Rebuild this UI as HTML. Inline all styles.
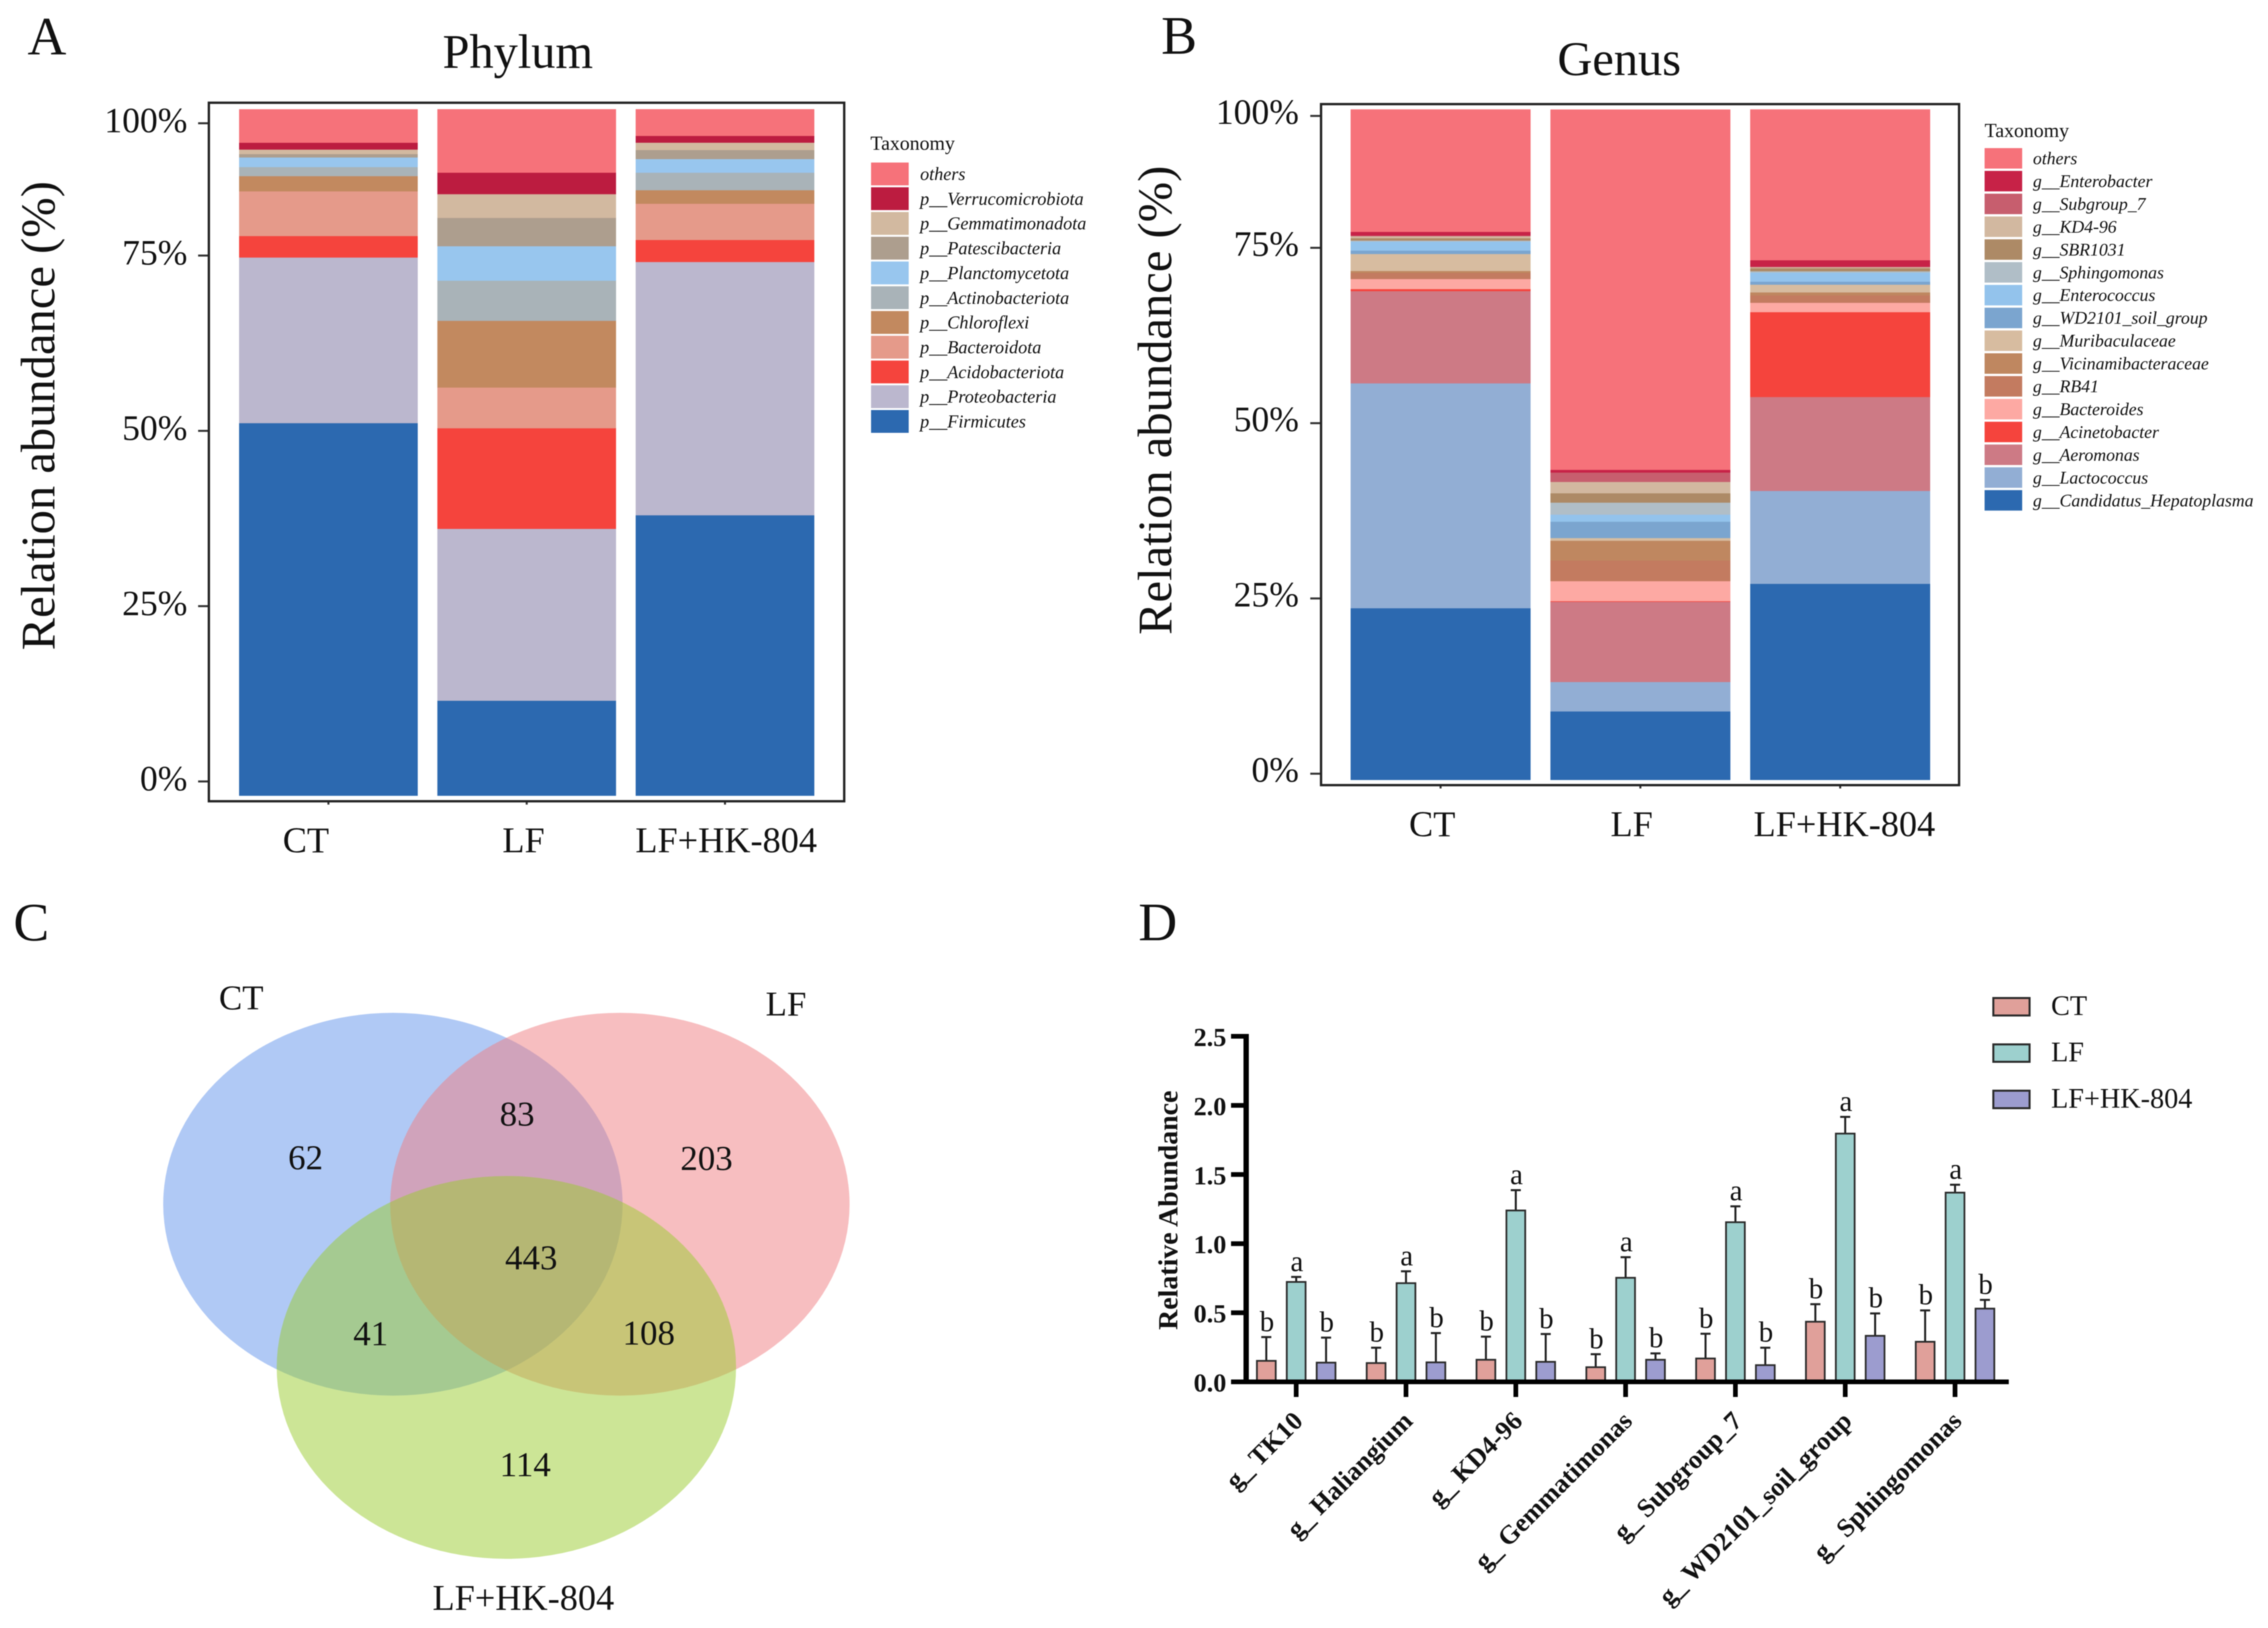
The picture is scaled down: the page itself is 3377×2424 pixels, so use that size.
<!DOCTYPE html>
<html lang="en">
<head>
<meta charset="utf-8">
<title>Gut microbiota composition panels</title>
<style>
  html,body{margin:0;padding:0;background:#fff;}
  #figure{display:block;width:3377px;height:2424px;filter:blur(0.7px);}
  text{font-family:"Liberation Serif",serif;fill:#111;}
  .panel-letter{font-size:80px;}
  .tick-big{font-size:53px;}
  .cat-big{font-size:54px;}
  .axis-big{font-size:72.3px;}
  .title-big{font-size:72px;}
  .legend-head{font-size:29.5px;}
  .legend-item{font-size:27px;font-style:italic;}
  .legend-item-small{font-size:26.4px;font-style:italic;}
  .venn-num{font-size:52px;}
  .bold-axis{font-size:39px;font-weight:bold;}
  .bold-title{font-size:41.5px;font-weight:bold;}
  .bold-cat{font-size:39px;font-weight:bold;}
  .sig{font-size:43px;}
  .legend-d{font-size:42px;}
</style>
</head>
<body>
<svg id="figure" xmlns="http://www.w3.org/2000/svg" width="3377" height="2424" viewBox="0 0 3377 2424">
  <rect x="0" y="0" width="3377" height="2424" fill="#ffffff"/>

  <!-- Panel A -->
  <g id="panel-a">
    <text class="panel-letter" x="41" y="81">A</text>
    <text class="title-big" x="659" y="101">Phylum</text>
    <text class="axis-big" x="81" y="619" text-anchor="middle" transform="rotate(-90 81 619)">Relation abundance (%)</text>
    <g id="a-plot"></g>
    <rect x="311" y="153" width="946" height="1040" fill="none" stroke="#222" stroke-width="3.5"/>
    <text class="cat-big" x="421" y="1269">CT</text>
    <text class="cat-big" x="748" y="1269">LF</text>
    <text class="cat-big" x="946" y="1269">LF+HK-804</text>
    <text class="legend-head" x="1296" y="223">Taxonomy</text>
    <g id="a-legend"></g>
  </g>

  <!-- Panel B -->
  <g id="panel-b">
    <text class="panel-letter" x="1729" y="80">B</text>
    <text class="title-big" x="2319" y="112">Genus</text>
    <text class="axis-big" x="1744" y="596" text-anchor="middle" transform="rotate(-90 1744 596)">Relation abundance (%)</text>
    <g id="b-plot"></g>
    <rect x="1967" y="155" width="950" height="1014" fill="none" stroke="#222" stroke-width="3.5"/>
    <text class="cat-big" x="2098" y="1245">CT</text>
    <text class="cat-big" x="2398" y="1245">LF</text>
    <text class="cat-big" x="2611" y="1245">LF+HK-804</text>
    <text class="legend-head" x="2955" y="204">Taxonomy</text>
    <g id="b-legend"></g>
  </g>

  <!-- Panel C -->
  <g id="panel-c">
    <text class="panel-letter" x="20" y="1400">C</text>
    <ellipse cx="585" cy="1793" rx="342" ry="285" fill="#6193EB" fill-opacity="0.5"/>
    <ellipse cx="923" cy="1793" rx="342" ry="285" fill="#EF7D81" fill-opacity="0.5"/>
    <ellipse cx="754" cy="2036" rx="342" ry="285" fill="#99CB2D" fill-opacity="0.5"/>
    <text class="venn-num" x="326" y="1503">CT</text>
    <text class="venn-num" x="1140" y="1512">LF</text>
    <text class="cat-big" x="644" y="2397">LF+HK-804</text>
    <text class="venn-num" x="429" y="1741">62</text>
    <text class="venn-num" x="744" y="1676">83</text>
    <text class="venn-num" x="1013" y="1742">203</text>
    <text class="venn-num" x="752" y="1890">443</text>
    <text class="venn-num" x="526" y="2003">41</text>
    <text class="venn-num" x="927" y="2002">108</text>
    <text class="venn-num" x="744" y="2198">114</text>
  </g>

  <!-- Panel D -->
  <g id="panel-d">
    <text class="panel-letter" x="1695" y="1400">D</text>
    <text class="bold-title" x="1753" y="1802" text-anchor="middle" transform="rotate(-90 1753 1802)">Relative Abundance</text>
    <g id="d-plot"></g>
    <g id="d-legend"></g>
  </g>
</svg>

<script>
// ---------- Panel A data (percent of stacked bar height, bottom to top) ----------
const phylumTaxa = ['p__Firmicutes','p__Proteobacteria','p__Acidobacteriota','p__Bacteroidota','p__Chloroflexi','p__Actinobacteriota','p__Planctomycetota','p__Patescibacteria','p__Gemmatimonadota','p__Verrucomicrobiota','others'];
const phylumColors = ['#2C69B0','#BBB7CE','#F5443D','#E59A8A','#C2895F','#A9B3B8','#98C6EE','#AD9E8E','#D2B9A0','#BC1C40','#F6727A'];
const phylumCT = [54.28,24.13,3.13,6.51,2.22,1.32,1.40,0.49,0.66,0.99,4.86];
const phylumLF = [13.84,25.04,14.66,5.93,9.72,5.85,5.02,4.12,3.46,3.13,9.23];
const phylumHK = [40.86,36.90,3.21,5.27,1.98,2.55,1.98,1.32,1.07,0.99,3.87];
const phylumTickValues = [2.05,27.59,53.13,78.67,97.94];
const phylumTickLabels = ['0%','25%','50%','75%','100%'];

// ---------- Panel B data ----------
const genusTaxa = ['g__Candidatus_Hepatoplasma','g__Lactococcus','g__Aeromonas','g__Acinetobacter','g__Bacteroides','g__RB41','g__Vicinamibacteraceae','g__Muribaculaceae','g__WD2101_soil_group','g__Enterococcus','g__Sphingomonas','g__SBR1031','g__KD4-96','g__Subgroup_7','g__Enterobacter','others'];
const genusColors = ['#2C69B0','#92AED4','#CD7A85','#F5443D','#FDA9A3','#C37B60','#BF8760','#D7BCA0','#7BA5CF','#93C3EC','#B0BEC7','#AD8A66','#D2B8A0','#C75E6E','#C72247','#F6727A'];
const genusCT = [25.62,33.55,13.76,0.30,1.50,0.90,0.30,2.54,0.50,1.35,0.15,0.35,0.30,0.10,0.55,18.25];
const genusLF = [10.22,4.39,11.96,0.10,2.99,3.09,2.94,0.40,2.44,1.05,1.79,1.40,1.69,1.40,0.40,53.74];
const genusHK = [29.26,13.86,14.01,12.66,1.40,1.10,0.45,1.15,0.45,1.35,0.20,0.45,0.15,0.10,0.95,22.48];
const genusTickValues = [0.90,27.05,53.20,79.36,99.04];
const genusTickLabels = ['0%','25%','50%','75%','100%'];

// ---------- Panel D data ----------
const abundanceCategories = ['g_ TK10','g_ Haliangium','g_ KD4-96','g_ Gemmatimonas','g_ Subgroup_7','g_ WD2101_soil_group','g_ Sphingomonas'];
const abundanceSeries = ['CT','LF','LF+HK-804'];
const abundanceColors = ['#E0A09A','#9DD0CE','#9C9CCF'];
const ctMeans = [0.152,0.136,0.16,0.106,0.169,0.435,0.29];
const lfMeans = [0.723,0.714,1.24,0.753,1.155,1.796,1.369];
const hkMeans = [0.139,0.141,0.145,0.16,0.121,0.333,0.53];
const ctErrorTops = [0.324,0.247,0.327,0.2,0.348,0.562,0.517];
const lfErrorTops = [0.759,0.8,1.387,0.902,1.27,1.917,1.426];
const hkErrorTops = [0.32,0.353,0.346,0.206,0.247,0.495,0.593];
const ctLetters = ['b','b','b','b','b','b','b'];
const lfLetters = ['a','a','a','a','a','a','a'];
const hkLetters = ['b','b','b','b','b','b','b'];
const abundanceTicks = [0,0.5,1,1.5,2,2.5];
const abundanceTickLabels = ['0.0','0.5','1.0','1.5','2.0','2.5'];

const SVG_NS = 'http://www.w3.org/2000/svg';
function make(tag, parent, props, content) {
  const node = document.createElementNS(SVG_NS, tag);
  for (const key in props) node.setAttribute(key, props[key]);
  if (content !== undefined) node.textContent = content;
  parent.appendChild(node);
  return node;
}
function slug(s) {
  return s.toLowerCase().replace(/[^a-z0-9]+/g, '-').replace(/^-|-$/g, '');
}

// Axis functions
const yPhylum = v => 1184.5 - v * 10.22;
const xPhylum = i => 356 + i * 295.25;
const yGenus = v => 1161 - v * 9.98;
const xGenus = i => 2011 + i * 297.5;
const yAbundance = v => 2057.5 - v * 205.8;
const xAbundance = i => 1930 + i * 163.5;

function drawStackedPanel(cfg) {
  const plot = document.getElementById(cfg.plotId);
  cfg.columns.forEach((values, gi) => {
    const column = make('g', plot, {});
    
    
    let cum = 0;
    values.forEach((val, si) => {
      const top = cfg.y(cum + val);
      const bottom = cfg.y(cum);
      const seg = make('rect', column, {
        x: cfg.x(gi), y: top, width: cfg.barWidth, height: bottom - top + 0.4, fill: cfg.colors[si]
      });
      
      
      cum += val;
    });
    const tick = make('line', plot, {
      x1: cfg.x(gi) + cfg.barWidth / 2, x2: cfg.x(gi) + cfg.barWidth / 2,
      y1: cfg.frameBottom, y2: cfg.frameBottom + 5, stroke: '#333', 'stroke-width': 3
    });
    
    
  });
  cfg.tickValues.forEach((v, i) => {
    const yy = cfg.y(v);
    const tick = make('line', plot, {
      x1: cfg.tickLeft, x2: cfg.tickLeft + 16, y1: yy, y2: yy, stroke: '#333', 'stroke-width': 3
    });
    
    
    const label = make('text', plot, {
      class: 'tick-big', x: cfg.labelRight, y: yy + cfg.labelDrop, 'text-anchor': 'end'
    }, cfg.tickLabels[i]);
    
    
  });
  const legend = document.getElementById(cfg.legendId);
  const count = cfg.taxa.length;
  for (let row = 0; row < count; row++) {
    const si = count - 1 - row;
    const swatch = make('rect', legend, {
      x: cfg.swatchX, y: cfg.swatchY + row * cfg.rowStep,
      width: cfg.swatchW, height: cfg.swatchH, fill: cfg.colors[si]
    });
    
    
    const label = make('text', legend, {
      class: cfg.itemClass, x: cfg.textX, y: cfg.textY + row * cfg.rowStep
    }, cfg.taxa[si]);
    
    
  }
}

drawStackedPanel({
  prefix: 'phylum', plotId: 'a-plot', legendId: 'a-legend',
  groups: ['CT','LF','LF+HK-804'], columns: [phylumCT, phylumLF, phylumHK],
  taxa: phylumTaxa, colors: phylumColors, x: xPhylum, y: yPhylum, barWidth: 266,
  frameBottom: 1193, tickValues: phylumTickValues, tickLabels: phylumTickLabels,
  tickLeft: 295, labelRight: 279, labelDrop: 13.5, itemClass: 'legend-item',
  swatchX: 1297, swatchY: 242, swatchW: 56, swatchH: 34, rowStep: 36.85,
  textX: 1370, textY: 268
});

drawStackedPanel({
  prefix: 'genus', plotId: 'b-plot', legendId: 'b-legend',
  groups: ['CT','LF','LF+HK-804'], columns: [genusCT, genusLF, genusHK],
  taxa: genusTaxa, colors: genusColors, x: xGenus, y: yGenus, barWidth: 268,
  frameBottom: 1169, tickValues: genusTickValues, tickLabels: genusTickLabels,
  tickLeft: 1951, labelRight: 1934, labelDrop: 12, itemClass: 'legend-item-small',
  swatchX: 2955, swatchY: 220.5, swatchW: 56, swatchH: 30.5, rowStep: 33.95,
  textX: 3027, textY: 244.5
});

// ---------- Panel D ----------
(function drawAbundance() {
  const plot = document.getElementById('d-plot');
  const means = [ctMeans, lfMeans, hkMeans];
  const tops = [ctErrorTops, lfErrorTops, hkErrorTops];
  const letters = [ctLetters, lfLetters, hkLetters];
  const barW = 28;
  abundanceCategories.forEach((cat, ci) => {
    const group = make('g', plot, {});
    
    
    abundanceSeries.forEach((ser, si) => {
      const cx = xAbundance(ci) + (si - 1) * 44.5;
      const errY = yAbundance(tops[si][ci]);
      const topY = yAbundance(means[si][ci]);
      const stem = make('line', group, { x1: cx, x2: cx, y1: topY, y2: errY, stroke: '#222', 'stroke-width': 3 });
      
      
      const cap = make('line', group, { x1: cx - 7.5, x2: cx + 7.5, y1: errY, y2: errY, stroke: '#222', 'stroke-width': 3 });
      
      
      const bar = make('rect', group, {
        x: cx - barW / 2, y: topY, width: barW, height: yAbundance(0) - topY,
        fill: abundanceColors[si], stroke: '#2a2a2a', 'stroke-width': 2.6
      });
      
      
      const sig = make('text', group, { class: 'sig', x: cx + 1, y: errY - 9, 'text-anchor': 'middle' }, letters[si][ci]);
      
      
    });
    const tx = xAbundance(ci);
    const tick = make('line', plot, { x1: tx, x2: tx, y1: 2058, y2: 2080, stroke: '#000', 'stroke-width': 7 });
    
    
    const px = tx + 12, py = 2118;
    const label = make('text', plot, {
      class: 'bold-cat', x: px, y: py, 'text-anchor': 'end', transform: 'rotate(-45 ' + px + ' ' + py + ')'
    }, cat);
    
    
  });
  const yAxis = make('line', plot, { x1: 1855.5, x2: 1855.5, y1: yAbundance(2.5) - 3.5, y2: yAbundance(0) + 3, stroke: '#000', 'stroke-width': 8 });
  
  
  const xAxis = make('line', plot, { x1: 1833, x2: 2991, y1: yAbundance(0), y2: yAbundance(0), stroke: '#000', 'stroke-width': 7 });
  
  
  abundanceTicks.forEach((v, i) => {
    const yy = yAbundance(v);
    const tick = make('line', plot, { x1: 1833, x2: 1855, y1: yy, y2: yy, stroke: '#000', 'stroke-width': 7 });
    
    
    const label = make('text', plot, { class: 'bold-axis', x: 1826, y: yy + 14.5, 'text-anchor': 'end' }, abundanceTickLabels[i]);
    
    
  });
  const legend = document.getElementById('d-legend');
  abundanceSeries.forEach((ser, si) => {
    const swatch = make('rect', legend, {
      x: 2968, y: 1486 + si * 69, width: 54, height: 26,
      fill: abundanceColors[si], stroke: '#2a2a2a', 'stroke-width': 3
    });
    
    
    const label = make('text', legend, { class: 'legend-d', x: 3054, y: 1511.5 + si * 69 }, ser);
    
    
  });
})();
</script>
</body>
</html>
